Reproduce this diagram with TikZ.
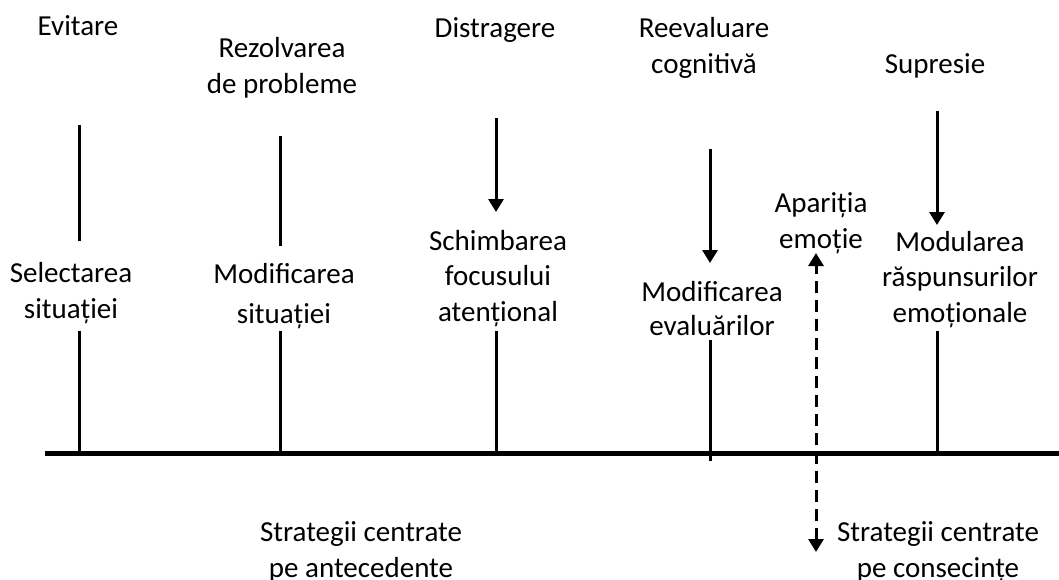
\documentclass[tikz,border=0pt]{standalone}
\usepackage{fontspec}
\setmainfont{Carlito}
\usetikzlibrary{arrows.meta}
\begin{document}
\begin{tikzpicture}[x=1pt,y=-1pt,
  lbl/.style={font=\fontsize{29}{35.5}\selectfont, align=center, anchor=base, inner sep=0pt},
  stem/.style={line width=3pt},
  arr/.style={line width=3pt, -{Triangle[width=15pt,length=13pt]}},
  axisline/.style={line width=5pt},
  emoline/.style={line width=3pt, dash pattern=on 12pt off 7pt,
    {Triangle[width=15pt,length=13pt]}-{Triangle[width=15pt,length=13pt]}}
]
\useasboundingbox (0,0) rectangle (1059,579);

% top labels (anchor = baseline of the last line)
\node[lbl] (evit) at (78,35) {Evitare};
\node[lbl] (rez) at (282,93) {Rezolvarea\\de probleme};
\node[lbl] (dist) at (495,37) {Distragere};
\node[lbl] (reev) at (704,73) {Reevaluare\\cognitivă};
\node[lbl] (supr) at (935,73) {Supresie};

% middle labels
\node[lbl] (sel) at (71,318) {Selectarea\\situației};
\node[lbl] (modsit) at (284,323) {Modificarea\\[4.5pt]situației};
\node[lbl] (schimb) at (498,321) {Schimbarea\\focusului\\atențional};
\node[lbl] (modev) at (712,335) {Modificarea\\[-1.5pt]evaluărilor};
\node[lbl] (apar) at (821,248) {Apariția\\emoție};
\node[lbl] (modul) at (960,322) {Modularea\\răspunsurilor\\emoționale};

% bottom labels
\node[lbl] (antec) at (361,577) {Strategii centrate\\pe antecedente};
\node[lbl] (consec) at (938,577) {Strategii centrate\\pe consecințe};

% coordinates
\coordinate (a1) at (79,125);   \coordinate (a2) at (79,241);
\coordinate (a3) at (79,331);   \coordinate (a4) at (79,453);
\coordinate (b1) at (280,136);  \coordinate (b2) at (280,246);
\coordinate (b3) at (280,331);  \coordinate (b4) at (280,453);
\coordinate (c1) at (496,118);  \coordinate (c2) at (496,212);
\coordinate (c3) at (496,331);  \coordinate (c4) at (496,453);
\coordinate (d1) at (710,149);  \coordinate (d2) at (710,263);
\coordinate (d3) at (710,340);  \coordinate (d4) at (710,461);
\coordinate (f1) at (937,111);  \coordinate (f2) at (937,225);
\coordinate (f3) at (937,331);  \coordinate (f4) at (937,453);
\coordinate (e1) at (816,253);  \coordinate (e2) at (816,552);
\coordinate (L) at (45,453);    \coordinate (R) at (1059,453);

% axis
\draw[axisline] (L) -- (R);

% stems and arrows
\draw[stem] (a1) -- (a2);
\draw[stem] (a3) -- (a4);
\draw[stem] (b1) -- (b2);
\draw[stem] (b3) -- (b4);
\draw[arr] (c1) -- (c2);
\draw[stem] (c3) -- (c4);
\draw[arr] (d1) -- (d2);
\draw[stem] (d3) -- (d4);
\draw[arr] (f1) -- (f2);
\draw[stem] (f3) -- (f4);

% emotion onset line
\draw[emoline] (e2) -- (e1);
\end{tikzpicture}
\end{document}
